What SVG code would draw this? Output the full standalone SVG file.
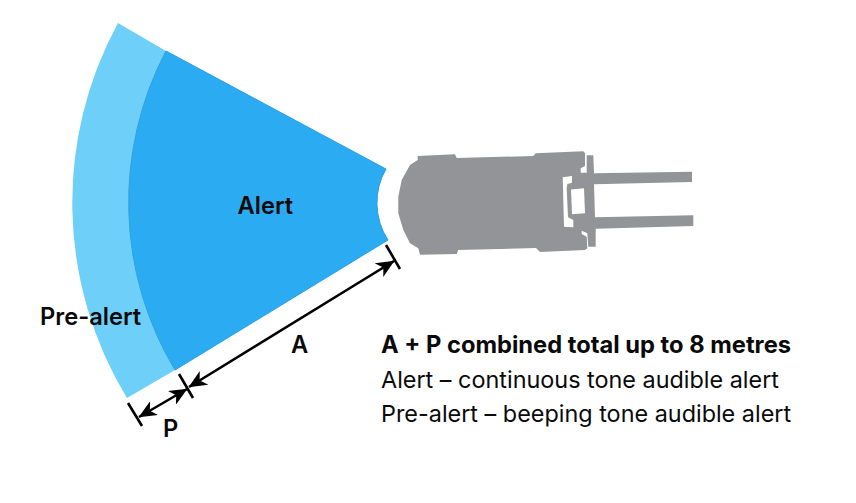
<svg xmlns="http://www.w3.org/2000/svg" width="856" height="503" viewBox="0 0 856 503">
<style>
text{font-family:"Inter","Liberation Sans",sans-serif;fill:#0a0a0a;font-size:23.4px}
.b{font-weight:700;font-size:23.7px}
.s{font-weight:600;font-size:23.7px}
.dim{stroke:#000;stroke-width:2.6;fill:none}
.tick{stroke:#000;stroke-width:2.6;fill:none}
</style>
<defs>
<marker id="ah" viewBox="0 0 18 16" refX="17.500" refY="8" markerWidth="18" markerHeight="16" markerUnits="userSpaceOnUse" orient="auto-start-reverse"><path d="M0 0L18 8L0 16L5 8Z" fill="#000"/></marker>
</defs>
<rect width="856" height="503" fill="#fff"/>
<g id="pre-alert-zone">
<path d="M118 23L166 51A326 326 0 0 0 175 370L127 398A376 376 0 0 1 118 23Z" fill="#6ecff8"/>
<text x="40" y="324.500" class="s">Pre-alert</text>
</g>
<g id="alert-zone">
<path d="M166 51L386 169A68 68 0 0 0 388 240L175 370A326 326 0 0 1 166 51Z" fill="#2aabf2" stroke="#2b9fe6" stroke-width="1"/>
<text x="237.500" y="213.500" class="s">Alert</text>
</g>
<g id="truck">
<path fill="#929497" d="M417.700 156L455 154.300L456.700 158L533.300 156L535.700 153.300L583.300 151.300L585 153.300V166L580.700 168.300V172.700H586.700L586.700 155.300H593.300L594 173.300L692 171.700V182L594 184.300L595 217.300L693.300 215.300V226L595.700 228.700V246.700H588.300L587.300 233.300L581.700 230.700V234L586.700 236.700L587.300 248.300L585 250L540 252L536 248L458.300 250L456.700 254L420 254.700L418.300 248.300L410 243.300L403.300 230L398.300 213.300V196.700L401.700 180L410 165L417.700 160Z"/>
<path fill="#fff" d="M562.700 177.300L572 176V182.700L567.300 184L566.700 188.300L568 217.300L573.300 220V227.300L564 226.700Z"/>
<path fill="#fff" d="M571 189.500L584 188.300L585 213.300L572 214.300Z"/>
</g>
<g id="connectors">
<path class="tick" d="M386 245L400 269"/>
<path class="tick" d="M179 374L193 398"/>
<path class="tick" d="M128 403L142 426"/>
<path class="dim" d="M189 387L394 261" marker-start="url(#ah)" marker-end="url(#ah)"/>
<path class="dim" d="M139 417L187 389" marker-start="url(#ah)" marker-end="url(#ah)"/>
</g>
<g id="labels">
<text x="291" y="353" class="s">A</text>
<text x="163" y="436.500" class="s">P</text>
<text x="381" y="352.500" class="b">A + P combined total up to 8 metres</text>
<text x="381" y="387.500">Alert – continuous tone audible alert</text>
<text x="381" y="421.500">Pre-alert – beeping tone audible alert</text>
</g>
</svg>
